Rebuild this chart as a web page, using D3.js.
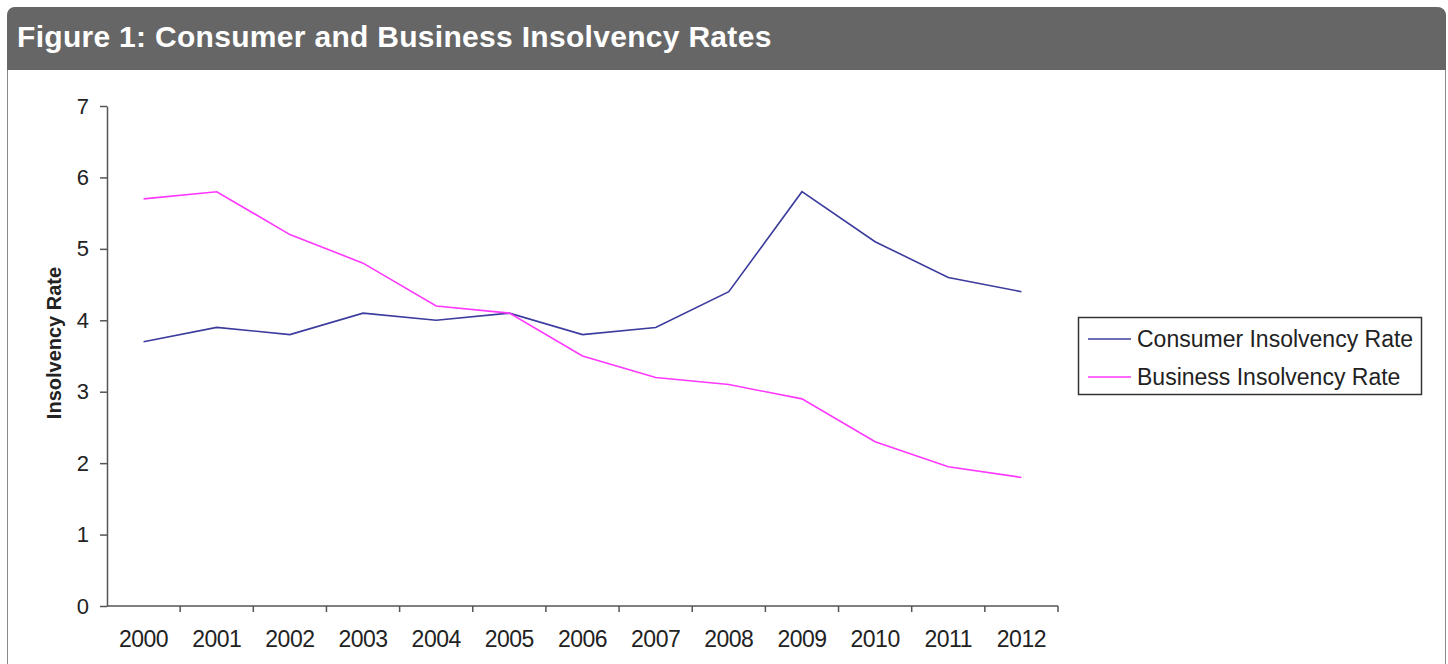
<!DOCTYPE html>
<html>
<head>
<meta charset="utf-8">
<script src="https://cdn.jsdelivr.net/npm/d3@7"></script>
<style>
  body { margin: 0; background: #fff; font-family: "Liberation Sans", Arial, sans-serif; }
</style>
</head>
<body>
<svg id="chart" width="1448" height="664"></svg>
<script>
// data
const years = ["2000", "2001", "2002", "2003", "2004", "2005", "2006", "2007", "2008", "2009", "2010", "2011", "2012"];
const consumerRate = [3.7, 3.9, 3.8, 4.1, 4.0, 4.1, 3.8, 3.9, 4.4, 5.8, 5.1, 4.6, 4.4];
const businessRate = [5.7, 5.8, 5.2, 4.8, 4.2, 4.1, 3.5, 3.2, 3.1, 2.9, 2.3, 1.95, 1.8];
const yTicks = [0, 1, 2, 3, 4, 5, 6, 7];
const seriesNames = ["Consumer Insolvency Rate", "Business Insolvency Rate"];
const seriesColors = ["#3c3c9e", "#ff38ff"];

const svg = d3.select("#chart");

// panel with header
const r = 9;
svg.append("path")
    .attr("d", `M7.5,700 V${7 + r} Q7.5,7.5 ${7 + r},7.5 H${1445 - r} Q1445.5,7.5 1445.5,${7 + r} V700`)
    .attr("fill", "#fff")
    .attr("stroke", "#8a8a8a");
svg.append("path")
    .attr("d", `M7,70 V${7 + r} Q7,7 ${7 + r},7 H${1445 - r} Q1446,7 1446,${7 + r} V70 Z`)
    .attr("fill", "#666666");
svg.append("text")
    .attr("x", 17).attr("y", 47)
    .attr("fill", "#fff")
    .attr("font-size", 30).attr("font-weight", "bold")
    .attr("letter-spacing", 0.3)
    .text("Figure 1: Consumer and Business Insolvency Rates");

// scales
const x = d3.scaleBand().domain(years).range([107, 1058]);
const y = d3.scaleLinear().domain([0, 7]).range([606, 106]);

// y axis
const yAxis = svg.append("g")
    .attr("transform", "translate(107,0)")
    .call(d3.axisLeft(y).tickValues(yTicks).tickFormat(d3.format("d"))
        .tickSize(7).tickSizeOuter(0).tickPadding(11));
yAxis.selectAll("path, line").attr("stroke", "#555").attr("stroke-width", 1.5);
yAxis.selectAll("text").attr("font-size", 22).attr("fill", "#222")
    .attr("font-family", "Liberation Sans, Arial, sans-serif");

// x axis, ticks between categories
const xAxis = svg.append("g")
    .attr("transform", "translate(0,606)");
xAxis.append("path")
    .attr("d", `M${x.range()[0]},0H${x.range()[1]}`)
    .attr("stroke", "#555").attr("stroke-width", 1.5);
xAxis.selectAll("line")
    .data(years)
    .enter()
    .append("line")
    .attr("x1", d => x(d) + x.bandwidth()).attr("x2", d => x(d) + x.bandwidth())
    .attr("y1", 0).attr("y2", 6)
    .attr("stroke", "#555").attr("stroke-width", 1.5);
xAxis.selectAll("text")
    .data(years)
    .enter()
    .append("text")
    .attr("x", d => x(d) + x.bandwidth() / 2)
    .attr("y", 41)
    .attr("text-anchor", "middle")
    .attr("font-size", 23).attr("fill", "#222")
    .attr("letter-spacing", -0.5)
    .text(d => d);

// y axis title
svg.append("text")
    .attr("transform", "translate(61,343) rotate(-90)")
    .attr("text-anchor", "middle")
    .attr("font-size", 20).attr("font-weight", "bold").attr("fill", "#222")
    .text("Insolvency Rate");

// lines
const line = d3.line()
    .x((d, i) => x(years[i]) + x.bandwidth() / 2)
    .y(d => y(d));

[consumerRate, businessRate].forEach((vals, k) => {
    svg.append("path")
        .datum(vals)
        .attr("fill", "none")
        .attr("stroke", seriesColors[k])
        .attr("stroke-width", 1.6)
        .attr("d", line);
});

// legend
const legend = svg.append("g");
legend.append("rect")
    .attr("x", 1078.5).attr("y", 317.5)
    .attr("width", 343).attr("height", 77)
    .attr("fill", "#fff").attr("stroke", "#333").attr("stroke-width", 1.5);
seriesNames.forEach((name, k) => {
    const ly = 339 + k * 38;
    legend.append("line")
        .attr("x1", 1088).attr("x2", 1131)
        .attr("y1", ly).attr("y2", ly)
        .attr("stroke", seriesColors[k]).attr("stroke-width", 1.6);
    legend.append("text")
        .attr("x", 1137).attr("y", ly + 6)
        .attr("dy", "0.1em")
        .attr("font-size", 23).attr("fill", "#222")
        .text(name);
});
</script>
</body>
</html>
